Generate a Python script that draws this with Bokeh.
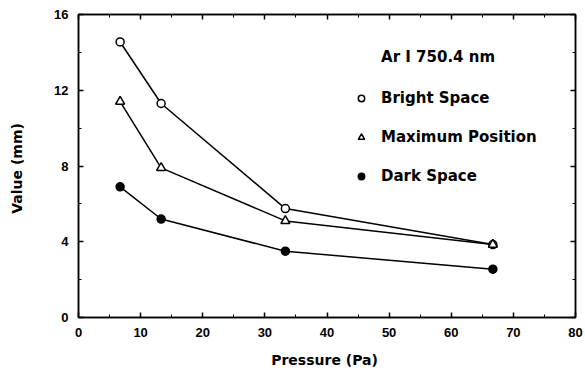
from bokeh.plotting import figure
from bokeh.models import LinearAxis, Legend, LegendItem, Range1d, FixedTicker, Label
from bokeh.embed import file_html
from bokeh.resources import INLINE

pressure = [6.7, 13.3, 33.3, 66.7]
bright_space = [14.55, 11.3, 5.75, 3.85]
maximum_position = [11.4, 7.9, 5.1, 3.85]
dark_space = [6.9, 5.2, 3.5, 2.55]

x_major = [0, 10, 20, 30, 40, 50, 60, 70, 80]
x_minor = [5, 15, 25, 35, 45, 55, 65, 75]
y_major = [0, 4, 8, 12, 16]
y_minor = [2, 6, 10, 14]

legend_title = "Ar I  750.4 nm"
series_labels = ["Bright Space", "Maximum Position", "Dark Space"]

FONT = "Liberation Sans"
LFONT = "DejaVu Sans"

p = figure(width=585, height=372, output_backend="svg", toolbar_location=None,
           x_range=Range1d(0, 80), y_range=Range1d(0, 16),
           x_axis_location=None, y_axis_location=None,
           min_border_left=78, min_border_right=10, min_border_top=14, min_border_bottom=55)
p.frame_width = 497
p.frame_height = 303
p.xgrid.visible = False
p.ygrid.visible = False
p.outline_line_color = "black"
p.outline_line_width = 1.5
p.background_fill_color = "white"
p.border_fill_color = "white"


def style_axis(ax, major, minor, labels=True):
    ax.ticker = FixedTicker(ticks=major, minor_ticks=minor)
    ax.axis_line_color = "black"
    ax.axis_line_width = 1.5
    ax.major_tick_in = 5
    ax.major_tick_out = 0
    ax.minor_tick_in = 3
    ax.minor_tick_out = 0
    ax.major_tick_line_width = 1.5
    ax.major_tick_line_color = "black"
    ax.minor_tick_line_color = "black"
    ax.major_label_text_font = FONT
    ax.major_label_text_font_style = "bold"
    ax.major_label_text_font_size = "13px"
    ax.major_label_text_color = "black"
    ax.axis_label_text_font = LFONT
    ax.axis_label_text_font_style = "bold"
    ax.axis_label_text_font_size = "14px"
    ax.axis_label_text_color = "black"
    if not labels:
        ax.major_label_overrides = {t: "" for t in major}
        ax.major_label_standoff = 0


xb = LinearAxis(axis_label="Pressure  (Pa)")
style_axis(xb, x_major, x_minor)
xb.major_label_standoff = 10
xb.axis_label_standoff = 12
p.add_layout(xb, "below")

yl = LinearAxis(axis_label="Value  (mm)")
style_axis(yl, y_major, y_minor)
yl.major_label_standoff = 10
yl.axis_label_standoff = 26
p.add_layout(yl, "left")

xt = LinearAxis()
style_axis(xt, x_major, x_minor, labels=False)
p.add_layout(xt, "above")

yr = LinearAxis()
style_axis(yr, y_major, y_minor, labels=False)
p.add_layout(yr, "right")

for ys in (bright_space, maximum_position, dark_space):
    p.line(pressure, ys, line_color="black", line_width=1.5)

r_b = p.scatter(pressure, bright_space, marker="circle", size=8,
                fill_color="white", line_color="black", line_width=1.5)
r_m = p.scatter(pressure, maximum_position, marker="triangle", size=9,
                fill_color="white", line_color="black", line_width=1.5)
r_d = p.scatter(pressure, dark_space, marker="circle", size=8,
                fill_color="black", line_color="black", line_width=1.5)

legend = Legend(items=[
    LegendItem(label=series_labels[0], renderers=[r_b]),
    LegendItem(label=series_labels[1], renderers=[r_m]),
    LegendItem(label=series_labels[2], renderers=[r_d]),
], location=(275, 131))
legend.label_text_font = LFONT
legend.label_text_font_style = "bold"
legend.label_text_font_size = "15px"
legend.label_text_color = "black"
legend.label_standoff = 12
legend.label_height = 20
legend.spacing = 19
legend.glyph_width = 16
legend.glyph_height = 20
legend.border_line_color = None
legend.background_fill_alpha = 0
legend.padding = 0
legend.margin = 0
p.add_layout(legend, "center")

title = Label(x=48.7, y=13.73, text=legend_title, text_font=LFONT,
              text_font_style="bold", text_font_size="15px",
              text_baseline="middle", text_color="black")
p.add_layout(title)

open("out.html", "w").write(file_html(p, INLINE))
